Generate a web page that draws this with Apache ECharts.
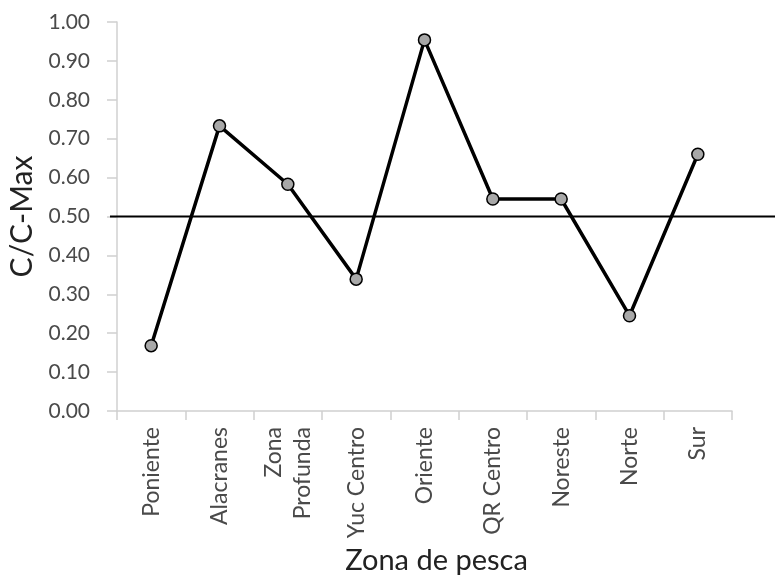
<!DOCTYPE html>
<html>
<head>
<meta charset="utf-8">
<script src="https://cdn.jsdelivr.net/npm/echarts@6/dist/echarts.min.js"></script>
<style>html,body{margin:0;padding:0;background:#fff;}#c{width:775px;height:575px;}</style>
</head>
<body>
<div id="c"></div>
<script>
const categories = ['Poniente', 'Alacranes', 'Zona\nProfunda', 'Yuc Centro', 'Oriente', 'QR Centro', 'Noreste', 'Norte', 'Sur'];
const values = [0.168, 0.733, 0.583, 0.339, 0.954, 0.545, 0.545, 0.245, 0.660];
const threshold = 0.5;
const yMin = 0, yMax = 1, yStep = 0.1;

const font = 'Lato, "Open Sans", sans-serif';
const chart = echarts.init(document.getElementById('c'));
chart.setOption({
  animation: false,
  backgroundColor: '#fff',
  grid: [
    { left: 117, right: 43, top: 22, bottom: 164, containLabel: false, outerBoundsMode: 'none' },
    { left: 110, right: 0, top: 22, bottom: 164, containLabel: false, outerBoundsMode: 'none' }
  ],
  xAxis: [
    {
      type: 'category', gridIndex: 0, data: categories, boundaryGap: true,
      name: 'Zona de pesca', nameLocation: 'middle', nameGap: 133,
      nameTextStyle: { fontFamily: font, fontSize: 29, color: '#222', padding: [0, 0, 0, 24] },
      axisLine: { lineStyle: { color: '#d0d0d0', width: 1.5 } },
      axisTick: { show: true, length: 9, lineStyle: { color: '#d0d0d0', width: 1.5 } },
      axisLabel: { rotate: 90, margin: 16, fontFamily: font, fontSize: 23, color: '#4a4a4a', lineHeight: 29, interval: 0 }
    },
    { type: 'value', gridIndex: 1, min: 0, max: 1, show: false }
  ],
  yAxis: [
    {
      type: 'value', gridIndex: 0, min: yMin, max: yMax, interval: yStep,
      name: 'C/C-Max', nameLocation: 'middle', nameGap: 77,
      nameTextStyle: { fontFamily: font, fontSize: 30, color: '#222' },
      axisLine: { show: true, lineStyle: { color: '#d0d0d0', width: 1.5 } },
      axisTick: { show: true, length: 10, lineStyle: { color: '#d0d0d0', width: 1.5 } },
      splitLine: { show: false },
      axisLabel: { margin: 27, fontFamily: font, fontSize: 21, color: '#4a4a4a', formatter: v => v.toFixed(2) }
    },
    { type: 'value', gridIndex: 1, min: yMin, max: yMax, show: false }
  ],
  series: [
    {
      type: 'line', xAxisIndex: 0, yAxisIndex: 0, data: values,
      symbol: 'circle', symbolSize: 12,
      lineStyle: { color: '#000', width: 3.5 },
      itemStyle: { color: '#a8a8a8', borderColor: '#000', borderWidth: 1.5 },
      z: 3
    },
    {
      type: 'line', xAxisIndex: 1, yAxisIndex: 1,
      data: [[0, threshold], [1, threshold]],
      symbol: 'none', lineStyle: { color: '#000', width: 2 }, z: 2
    }
  ]
});
</script>
</body>
</html>
